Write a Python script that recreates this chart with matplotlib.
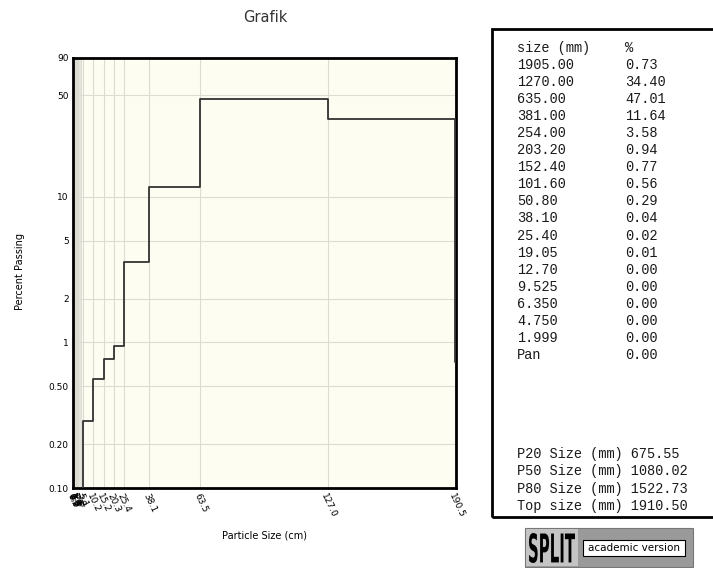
import matplotlib
matplotlib.use("Agg")
import matplotlib.pyplot as plt
from matplotlib.patches import Rectangle, PathPatch
from matplotlib.textpath import TextPath
from matplotlib.font_manager import FontProperties
from matplotlib.transforms import Affine2D, IdentityTransform
import numpy as np

# sieve data from the SPLIT table (size in mm, % retained)
sizes_mm = [1905.00, 1270.00, 635.00, 381.00, 254.00, 203.20, 152.40, 101.60,
            50.80, 38.10, 25.40, 19.05, 12.70, 9.525, 6.350, 4.750, 1.999]
pct = [0.73, 34.40, 47.01, 11.64, 3.58, 0.94, 0.77, 0.56,
       0.29, 0.04, 0.02, 0.01, 0.00, 0.00, 0.00, 0.00, 0.00]
pan_pct = 0.00
size_labels = ["1905.00", "1270.00", "635.00", "381.00", "254.00", "203.20", "152.40",
               "101.60", "50.80", "38.10", "25.40", "19.05", "12.70", "9.525",
               "6.350", "4.750", "1.999"]
stats_names = ["P20 Size (mm)", "P50 Size (mm)", "P80 Size (mm)", "Top size (mm)"]
stats_values = [675.55, 1080.02, 1522.73, 1910.50]
top_size_mm = 1910.50

yticks = [0.1, 0.2, 0.5, 1, 2, 5, 10, 50, 90]
ytick_labels = ["0.10", "0.20", "0.50", "1", "2", "5", "10", "50", "90"]

W, H = 713, 568
fig = plt.figure(figsize=(W / 100, H / 100), dpi=100)
fig.patch.set_facecolor("white")


def fx(px):
    return px / W


def fy(py):
    return 1 - py / H


ax = fig.add_axes([fx(73), fy(488), fx(456) - fx(73), fy(58) - fy(488)])
ax.set_facecolor("#fdfdf2")

# step line, ascending sizes in cm
x_cm = [s / 10 for s in sizes_mm][::-1] + [top_size_mm / 10]
y_pct = pct[::-1] + [pct[0]]
x_cm = np.array(x_cm)
y_pct = np.array(y_pct)
ax.plot(x_cm, y_pct, drawstyle="steps-post", color="#333333", lw=1.3, zorder=3)

ax.set_yscale("log")
ax.set_ylim(0.1, 90)
ax.set_xlim(0, top_size_mm / 10)

# light band over the crowded fine sieves
ax.axvspan(0, 4.0, color="#e6e6de", zorder=0, lw=0)

xt = [s / 10 for s in sizes_mm]
for v in xt:
    ax.axvline(v, color="#dcdcd2", lw=0.8, zorder=1)
for v in yticks:
    ax.axhline(v, color="#dcdcd2", lw=0.8, zorder=1)

ax.set_yticks(yticks)
ax.set_yticklabels(ytick_labels, fontsize=6.5)
ax.yaxis.set_minor_locator(matplotlib.ticker.NullLocator())
ax.set_xticks(xt)
ax.set_xticklabels(["%.1f" % v for v in xt], fontsize=6.5, rotation=-65,
                   ha="left", va="top", rotation_mode="anchor")
ax.tick_params(length=0, pad=3)
for sp in ax.spines.values():
    sp.set_linewidth(2)
    sp.set_color("black")

fig.text(fx(265), fy(17), "Grafik", ha="center", va="center", fontsize=10.5, color="#333333")
fig.text(fx(265), fy(536), "Particle Size (cm)", ha="center", va="center", fontsize=7)
fig.text(fx(20), fy(272), "Percent Passing", ha="center", va="center", fontsize=7, rotation=90)

# table box
fig.patches.append(Rectangle((fx(492), fy(517)), fx(240), fy(29) - fy(517),
                             transform=fig.transFigure, fill=False, lw=2, edgecolor="black"))
mono = ["Liberation Mono", "DejaVu Sans Mono"]
fs = 9.8
tcol = "#1a1a1a"
row0 = 48
step = 17.05
fig.text(fx(517), fy(row0), "size (mm)", family=mono, fontsize=fs, va="center", color=tcol)
fig.text(fx(625), fy(row0), "%", family=mono, fontsize=fs, va="center", color=tcol)
for i, (lab, p) in enumerate(zip(size_labels, pct)):
    yy = row0 + step * (i + 1)
    fig.text(fx(517), fy(yy), lab, family=mono, fontsize=fs, va="center", color=tcol)
    fig.text(fx(625), fy(yy), "%.2f" % p, family=mono, fontsize=fs, va="center", color=tcol)
yy = row0 + step * (len(size_labels) + 1)
fig.text(fx(517), fy(yy), "Pan", family=mono, fontsize=fs, va="center", color=tcol)
fig.text(fx(625), fy(yy), "%.2f" % pan_pct, family=mono, fontsize=fs, va="center", color=tcol)

for i, (nm, v) in enumerate(zip(stats_names, stats_values)):
    yy = 454 + 17.3 * i
    fig.text(fx(517), fy(yy), "%s %.2f" % (nm, v), family=mono, fontsize=fs,
             va="center", color=tcol)

# SPLIT logo
fig.patches.append(Rectangle((fx(525), fy(567)), fx(168), fy(528) - fy(567),
                             transform=fig.transFigure, facecolor="#9a9a9a",
                             edgecolor="#777777", lw=0.8))
fig.patches.append(Rectangle((fx(526), fy(566)), fx(52), fy(529) - fy(566),
                             transform=fig.transFigure, facecolor="#c4c4c4", lw=0))
tp = TextPath((0, 0), "SPLIT", size=1, prop=FontProperties(family="DejaVu Sans", weight="bold"))
bb = tp.get_extents()
sx = 46 / bb.width
sy = 30 / bb.height
tr = Affine2D().translate(-bb.x0, -bb.y0).scale(sx, sy).translate(529, H - 563)
fig.patches.append(PathPatch(tp, transform=tr + IdentityTransform(), facecolor="black", lw=0))
fig.patches.append(Rectangle((fx(583), fy(556)), fx(102), fy(540) - fy(556),
                             transform=fig.transFigure, facecolor="white",
                             edgecolor="black", lw=0.8))
fig.text(fx(634), fy(548), "academic version", ha="center", va="center", fontsize=7.5)

fig.savefig("out.png", dpi=100)
